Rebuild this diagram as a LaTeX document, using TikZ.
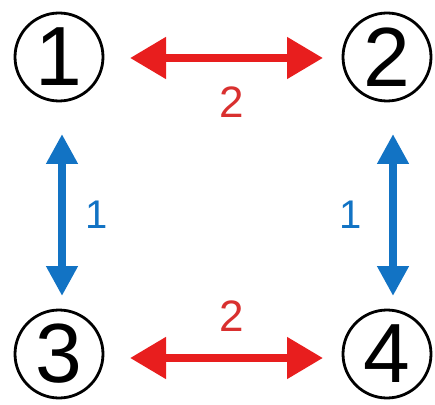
\documentclass[tikz,border=0pt]{standalone}
\usepackage{fontspec}
\setmainfont{Liberation Sans}
\usetikzlibrary{arrows.meta}
\definecolor{arrred}{HTML}{E81E1E}
\definecolor{lblred}{HTML}{D9302F}
\definecolor{arrblue}{HTML}{1273C4}
\tikzset{
  num/.style={circle,draw=black,line width=2.8pt,minimum size=88pt,inner sep=0pt,font=\fontsize{84}{84}\selectfont},
  redarr/.style={arrred,line width=8pt,{Triangle[length=36pt,width=40pt]}-{Triangle[length=36pt,width=40pt]}},
  bluearr/.style={arrblue,line width=8pt,{Triangle[length=30pt,width=30pt]}-{Triangle[length=30pt,width=30pt]}},
  redlbl/.style={text=lblred,font=\fontsize{44}{44}\selectfont},
  bluelbl/.style={text=arrblue,font=\fontsize{40}{40}\selectfont}
}
\begin{document}
\begin{tikzpicture}[x=1pt,y=1pt]
\useasboundingbox (0,0) rectangle (435,404);
\node[num] (n1) at (59,347) {1};
\node[num] (n2) at (387,347) {2};
\node[num] (n3) at (59,50) {3};
\node[num] (n4) at (387,50) {4};
\coordinate (a1) at (130,346);
\coordinate (a2) at (323,346);
\coordinate (b1) at (130,46);
\coordinate (b2) at (323,46);
\coordinate (c1) at (62,270);
\coordinate (c2) at (62,108);
\coordinate (d1) at (393,270);
\coordinate (d2) at (393,108);
\draw[redarr] (a1) -- (a2);
\draw[redarr] (b1) -- (b2);
\draw[bluearr] (c1) -- (c2);
\draw[bluearr] (d1) -- (d2);
\node[redlbl] (l1) at (232,302) {2};
\node[redlbl] (l2) at (232,88) {2};
\node[bluelbl] (l3) at (97,189) {1};
\node[bluelbl] (l4) at (351,189) {1};
\end{tikzpicture}
\end{document}
